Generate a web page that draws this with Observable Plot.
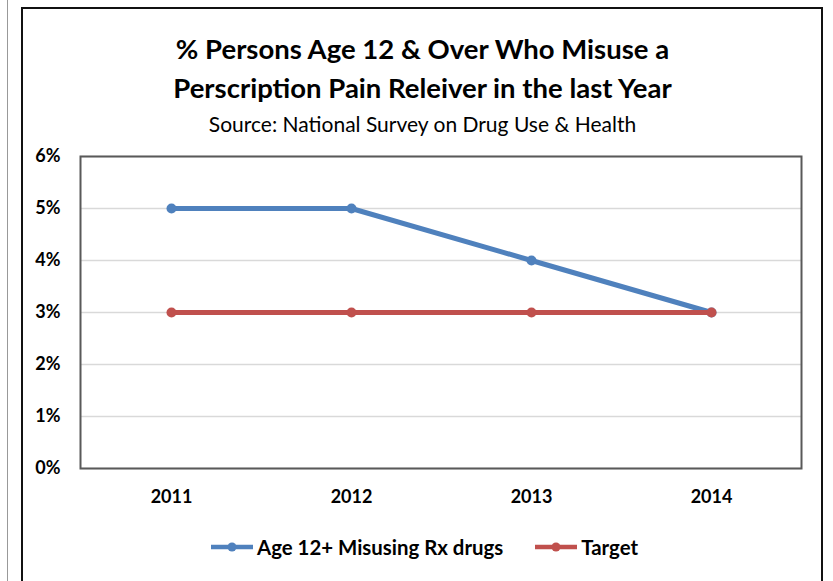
<!DOCTYPE html>
<html>
<head>
<meta charset="utf-8">
<script src="https://cdn.jsdelivr.net/npm/d3@7"></script>
<script src="https://cdn.jsdelivr.net/npm/@observablehq/plot@0.6"></script>
<style>
  html, body { margin: 0; padding: 0; background: #fff; }
  #wrap { position: relative; width: 833px; height: 581px; overflow: hidden; font-family: Lato, "Open Sans", sans-serif; color: #000; }
  #outer { position: absolute; left: 21px; top: 7px; width: 802px; height: 620px; border: 2px solid #111; box-sizing: border-box; }
  #gline { position: absolute; left: 7px; top: 0; width: 1px; height: 581px; background: #999; }
  #title { position: absolute; left: 0; width: 845px; top: 29px; text-align: center; font-weight: 700; font-size: 27.5px; line-height: 39px; }
  #sub { position: absolute; left: 0; width: 845px; top: 111px; text-align: center; font-size: 21px; }
  #chart { position: absolute; left: 0; top: 140px; }
  #legend { position: absolute; top: 535px; left: 209px; display: flex; align-items: center; font-weight: 700; font-size: 20.4px; }
  .item { display: flex; align-items: center; margin-right: 30px; }
  .item svg { margin-right: 2px; }
</style>
</head>
<body>
<div id="wrap">
  <div id="gline"></div>
  <div id="outer"></div>
  <div id="title">% Persons Age 12 &amp; Over Who Misuse a<br>Perscription Pain Releiver in the last Year</div>
  <div id="sub">Source: National Survey on Drug Use &amp; Health</div>
  <div id="chart"></div>
  <div id="legend"></div>
</div>
<script>
const years = ["2011", "2012", "2013", "2014"];
const misuseValues = [5, 5, 4, 3];
const targetValues = [3, 3, 3, 3];
const yTicks = [0, 1, 2, 3, 4, 5, 6];
const seriesNames = ["Age 12+ Misusing Rx drugs", "Target"];
const seriesColors = ["#4F81BD", "#C0504D"];

const misuse = years.map((y, i) => ({year: y, value: misuseValues[i]}));
const target = years.map((y, i) => ({year: y, value: targetValues[i]}));

const plot = Plot.plot({
  width: 833,
  height: 378,
  marginTop: 16,
  marginBottom: 50,
  marginLeft: 80,
  marginRight: 32,
  style: {fontFamily: "Lato, sans-serif", fontSize: "18px", fontWeight: "700", color: "#000", background: "transparent"},
  x: {type: "point", domain: years, padding: 0.5, label: null, tickSize: 0, tickPadding: 22},
  y: {domain: [0, 6], ticks: yTicks, tickFormat: d => d + "%", label: null, tickSize: 0, tickPadding: 20},
  marks: [
    Plot.gridY(yTicks, {stroke: "#d9d9d9", strokeOpacity: 1, strokeWidth: 1.5}),
    Plot.frame({stroke: "#595959", strokeWidth: 2}),
    Plot.line(misuse, {x: "year", y: "value", stroke: seriesColors[0], strokeWidth: 5}),
    Plot.dot(misuse, {x: "year", y: "value", fill: seriesColors[0], r: 5}),
    Plot.line(target, {x: "year", y: "value", stroke: seriesColors[1], strokeWidth: 5}),
    Plot.dot(target, {x: "year", y: "value", fill: seriesColors[1], r: 5})
  ]
});
document.getElementById("chart").appendChild(plot);

const legend = document.getElementById("legend");
seriesNames.forEach((name, i) => {
  const item = document.createElement("div");
  item.className = "item";
  item.innerHTML = `<svg width="46" height="14"><line x1="2" y1="7" x2="44" y2="7" stroke="${seriesColors[i]}" stroke-width="4.5"/><circle cx="23" cy="7" r="4.5" fill="${seriesColors[i]}"/></svg><span>${name}</span>`;
  legend.appendChild(item);
});
</script>
</body>
</html>
